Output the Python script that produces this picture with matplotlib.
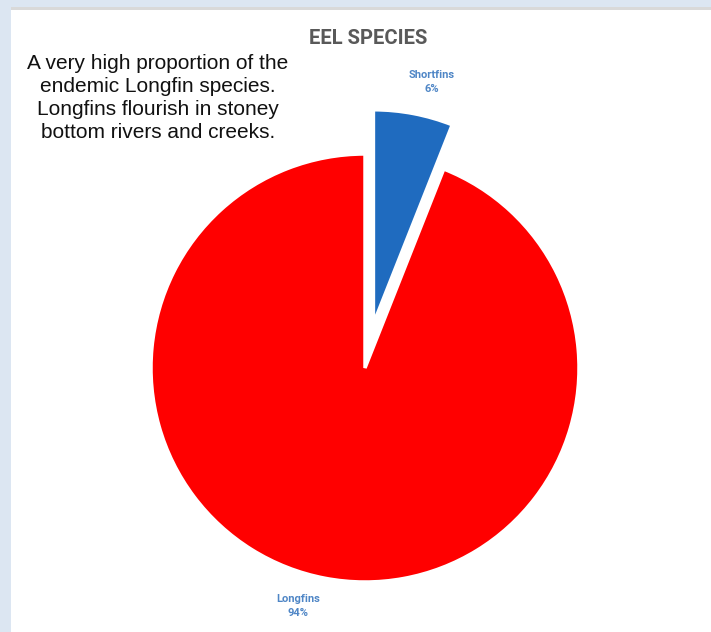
import matplotlib.pyplot as plt
from matplotlib.patches import Rectangle

species = ["Shortfins", "Longfins"]
shares = [6, 94]
colors = ["#1f6bbf", "#ff0000"]

W, H = 711, 632
fig = plt.figure(figsize=(W / 100, H / 100), dpi=100, facecolor="#dce6f2")
ax = fig.add_axes([0, 0, 1, 1])
ax.set_aspect("equal")

# white chart panel with a faint shadow along its top edge
ax.add_patch(Rectangle((11, 0), W - 11, H - 7, facecolor="#d9d9d9", edgecolor="none"))
ax.add_patch(Rectangle((11, 0), W - 11, H - 10, facecolor="white", edgecolor="none"))

cx, cy, r = 365, H - 368, 214
wedges, _ = ax.pie(shares, colors=colors, startangle=90, counterclock=False,
                   explode=[45, 0], center=(cx, cy), radius=r, frame=True,
                   wedgeprops=dict(edgecolor="white", linewidth=2.5))
ax.set_xlim(0, W)
ax.set_ylim(0, H)
ax.set_axis_off()

label_font = ["Roboto", "DejaVu Sans"]
label_pos = [(432, H - 82), (298, H - 606)]
for name, val, (lx, ly) in zip(species, shares, label_pos):
    ax.text(lx, ly, f"{name}\n{val}%", ha="center", va="center", fontsize=8,
            color="#4f86c6", fontweight="bold", family=label_font, linespacing=1.5)

ax.text(368, H - 38, "EEL SPECIES", ha="center", va="center", fontsize=14.5,
        fontweight="bold", color="#595959", family=label_font)

ax.text(158, H - 98, "A very high proportion of the\nendemic Longfin species.\n"
        "Longfins flourish in stoney\nbottom rivers and creeks.",
        ha="center", va="center", fontsize=15, color="#111111",
        family=["Liberation Sans", "DejaVu Sans"], linespacing=1.25)

fig.savefig("out.png", dpi=100, facecolor=fig.get_facecolor())
